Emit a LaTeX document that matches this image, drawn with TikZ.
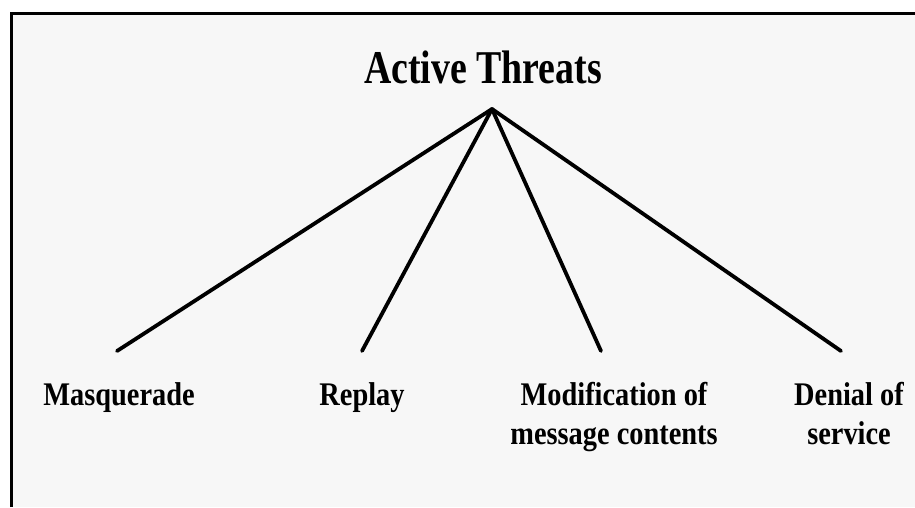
\documentclass[tikz,border=0pt]{standalone}
\usepackage{fontspec}
\usepackage{graphicx}
\setmainfont{Liberation Serif}
\definecolor{paper}{HTML}{F7F7F7}
\newcommand{\narrow}[2]{\scalebox{#1}[1]{\begin{tabular}[t]{@{}c@{}}#2\end{tabular}}}
\tikzset{
  branch/.style={line width=3.8pt, line cap=round, line join=round},
  titletext/.style={anchor=base, inner sep=0pt, font=\bfseries\fontsize{47}{56}\selectfont},
  leaftext/.style={anchor=base, inner sep=0pt, font=\bfseries\fontsize{33}{39}\selectfont},
}
\begin{document}
\begin{tikzpicture}[x=1pt, y=-1pt]
  \useasboundingbox (0,0) rectangle (915,507);
  \fill[white] (0,0) rectangle (915,507);
  \fill[paper] (11,13) rectangle (915,507);
  \draw[line width=3pt] (11,507) -- (11,13) -- (915,13);

  % root and leaves
  \node[titletext] (title) at (483,83) {\narrow{0.805}{Active Threats}};
  \coordinate (apex) at (492,109);

  \coordinate (m) at (117,351);
  \coordinate (r) at (362,351);
  \coordinate (mod) at (601,351);
  \coordinate (d) at (841,351);

  \node[leaftext] (masq) at (119,405) {\narrow{0.86}{Masquerade}};
  \node[leaftext] (replay) at (362,405) {\narrow{0.86}{Replay}};
  \node[leaftext] (modif) at (614,405) {\narrow{0.86}{Modification of\\message contents}};
  \node[leaftext] (denial) at (849,405) {\narrow{0.86}{Denial of\\service}};

  % branches
  \draw[branch] (apex) -- (m);
  \draw[branch] (apex) -- (r);
  \draw[branch] (apex) -- (mod);
  \draw[branch] (apex) -- (d);
\end{tikzpicture}
\end{document}
